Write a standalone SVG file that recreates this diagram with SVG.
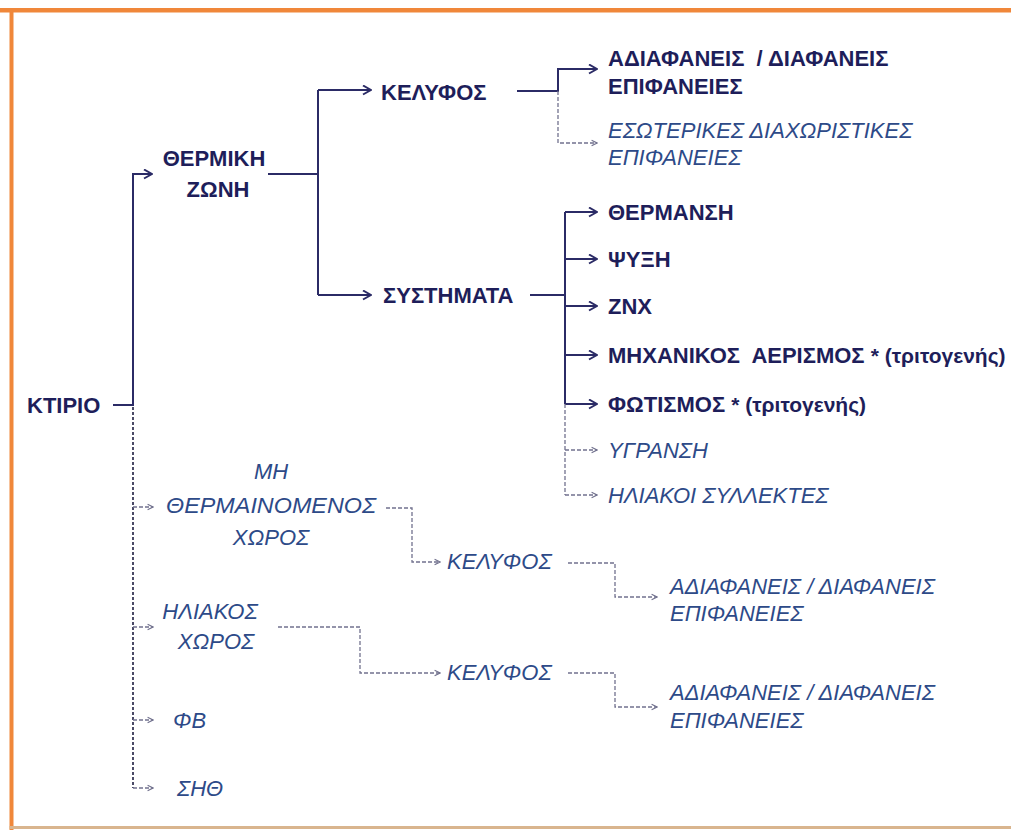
<svg xmlns="http://www.w3.org/2000/svg" width="1011" height="830" viewBox="0 0 1011 830">
<defs>
<style>
.b{font-family:"Liberation Sans",Arial,sans-serif;font-weight:bold;font-size:22px;fill:#1e1e5a}
.s{font-family:"Liberation Sans",Arial,sans-serif;font-weight:bold;font-size:21px;fill:#1e1e5a}
.i{font-family:"Liberation Sans",Arial,sans-serif;font-style:italic;font-size:22px;fill:#2d4a88}
.sl{fill:none;stroke:#2b2b66;stroke-width:2}
.dl{fill:none;stroke:#72728e;stroke-width:1.3;stroke-dasharray:4 2}
.dk{fill:none;stroke:#4a4a66;stroke-width:2;stroke-dasharray:3 2}
</style>
<marker id="ah" viewBox="0 0 11 11" refX="10" refY="5.5" markerWidth="11" markerHeight="11" markerUnits="userSpaceOnUse" orient="auto">
<path d="M2,1 L10,5.5 L2,10" fill="none" stroke="#2b2b66" stroke-width="2"/>
</marker>
<marker id="ahd" viewBox="0 0 10 10" refX="9" refY="5" markerWidth="9" markerHeight="9" markerUnits="userSpaceOnUse" orient="auto">
<path d="M3,2 L9,5 L3,8" fill="none" stroke="#72728e" stroke-width="1.3"/>
</marker>
</defs>
<rect width="1011" height="830" fill="#ffffff"/>
<g id="frame">
<rect x="0" y="8" width="1011" height="4.5" fill="#f0873a"/>
<rect x="9.5" y="8" width="4" height="822" fill="#f0873a"/>
<rect x="9.5" y="826" width="1002" height="3" fill="#d9b58e"/>
</g>
<g id="connectors">
<path class="sl" d="M113,405 H133 V174 H152" marker-end="url(#ah)"/>
<path class="sl" d="M268,174 H318"/>
<path class="sl" d="M318,90 V295"/>
<path class="sl" d="M318,90 H371" marker-end="url(#ah)"/>
<path class="sl" d="M318,295 H371" marker-end="url(#ah)"/>
<path class="sl" d="M517,91 H558 V69 H597" marker-end="url(#ah)"/>
<path class="dl" d="M558,91 V143 H597" marker-end="url(#ahd)"/>
<path class="sl" d="M530,295 H565"/>
<path class="sl" d="M565,212 V404"/>
<path class="sl" d="M565,212 H597" marker-end="url(#ah)"/>
<path class="sl" d="M565,259 H597" marker-end="url(#ah)"/>
<path class="sl" d="M565,306 H597" marker-end="url(#ah)"/>
<path class="sl" d="M565,355 H597" marker-end="url(#ah)"/>
<path class="sl" d="M565,404 H597" marker-end="url(#ah)"/>
<path class="dl" d="M565,404 V495"/>
<path class="dl" d="M565,450 H597" marker-end="url(#ahd)"/>
<path class="dl" d="M565,495 H597" marker-end="url(#ahd)"/>
<path class="dk" d="M133,407 V788"/>
<path class="dl" d="M133,507 H153" marker-end="url(#ahd)"/>
<path class="dl" d="M133,627 H153" marker-end="url(#ahd)"/>
<path class="dl" d="M133,720 H153" marker-end="url(#ahd)"/>
<path class="dl" d="M133,788 H153" marker-end="url(#ahd)"/>
<path class="dl" d="M386,508 H412 V562 H440" marker-end="url(#ahd)"/>
<path class="dl" d="M568,563 H615 V597 H657" marker-end="url(#ahd)"/>
<path class="dl" d="M278,627 H360 V673 H440" marker-end="url(#ahd)"/>
<path class="dl" d="M568,673 H615 V707 H657" marker-end="url(#ahd)"/>
</g>
<g id="ktirio"><text class="b" x="27" y="413">ΚΤΙΡΙΟ</text></g>
<g id="thermiki-zoni"><text class="b" x="214" y="166" text-anchor="middle">ΘΕΡΜΙΚΗ</text><text class="b" x="218" y="197" text-anchor="middle">ΖΩΝΗ</text></g>
<g id="kelyfos"><text class="b" x="381" y="100">ΚΕΛΥΦΟΣ</text></g>
<g id="systimata"><text class="b" x="383" y="303">ΣΥΣΤΗΜΑΤΑ</text></g>
<g id="adiafaneis"><text class="b" x="608" y="66" xml:space="preserve">ΑΔΙΑΦΑΝΕΙΣ  / ΔΙΑΦΑΝΕΙΣ</text><text class="b" x="608" y="94">ΕΠΙΦΑΝΕΙΕΣ</text></g>
<g id="esoterikes"><text class="i" x="608" y="138">ΕΣΩΤΕΡΙΚΕΣ ΔΙΑΧΩΡΙΣΤΙΚΕΣ</text><text class="i" x="608" y="165">ΕΠΙΦΑΝΕΙΕΣ</text></g>
<g id="thermansi"><text class="b" x="608" y="220">ΘΕΡΜΑΝΣΗ</text></g>
<g id="psyxi"><text class="b" x="608" y="267">ΨΥΞΗ</text></g>
<g id="znx"><text class="b" x="608" y="314">ΖΝΧ</text></g>
<g id="mixanikos-aerismos"><text class="b" x="608" y="363" xml:space="preserve">ΜΗΧΑΝΙΚΟΣ  ΑΕΡΙΣΜΟΣ <tspan class="s">* (τριτογενής)</tspan></text></g>
<g id="fotismos"><text class="b" x="608" y="412" xml:space="preserve">ΦΩΤΙΣΜΟΣ <tspan class="s">* (τριτογενής)</tspan></text></g>
<g id="ygransi"><text class="i" x="608" y="458">ΥΓΡΑΝΣΗ</text></g>
<g id="iliakoi-syllektes"><text class="i" x="608" y="503">ΗΛΙΑΚΟΙ ΣΥΛΛΕΚΤΕΣ</text></g>
<g id="mi-thermainomenos"><text class="i" x="271" y="479" text-anchor="middle">ΜΗ</text><text class="i" x="271" y="513" text-anchor="middle" textLength="210" lengthAdjust="spacingAndGlyphs">ΘΕΡΜΑΙΝΟΜΕΝΟΣ</text><text class="i" x="271" y="545" text-anchor="middle">ΧΩΡΟΣ</text></g>
<g id="kelyfos-2"><text class="i" x="447" y="569">ΚΕΛΥΦΟΣ</text></g>
<g id="adiafaneis-2"><text class="i" x="670" y="594">ΑΔΙΑΦΑΝΕΙΣ / ΔΙΑΦΑΝΕΙΣ</text><text class="i" x="670" y="621">ΕΠΙΦΑΝΕΙΕΣ</text></g>
<g id="iliakos-xoros"><text class="i" x="210" y="619" text-anchor="middle">ΗΛΙΑΚΟΣ</text><text class="i" x="216" y="649" text-anchor="middle">ΧΩΡΟΣ</text></g>
<g id="kelyfos-3"><text class="i" x="447" y="680">ΚΕΛΥΦΟΣ</text></g>
<g id="adiafaneis-3"><text class="i" x="670" y="700">ΑΔΙΑΦΑΝΕΙΣ / ΔΙΑΦΑΝΕΙΣ</text><text class="i" x="670" y="728">ΕΠΙΦΑΝΕΙΕΣ</text></g>
<g id="fv"><text class="i" x="173" y="728">ΦΒ</text></g>
<g id="sith"><text class="i" x="177" y="796">ΣΗΘ</text></g>
</svg>
